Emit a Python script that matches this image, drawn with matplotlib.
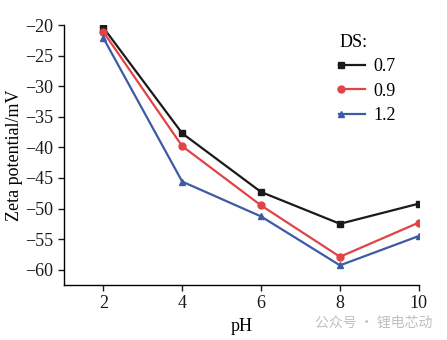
import matplotlib
matplotlib.use("Agg")
import matplotlib.pyplot as plt
from matplotlib.legend_handler import HandlerLine2DCompound
from matplotlib.lines import Line2D
import numpy as np

ph = [2, 4, 6, 8, 10]
ds_labels = ["0.7", "0.9", "1.2"]
zeta_07 = [-20.4, -37.7, -47.3, -52.5, -49.2]
zeta_09 = [-21.1, -39.8, -49.5, -57.9, -52.3]
zeta_12 = [-22.1, -45.6, -51.3, -59.3, -54.5]
yticks = [-20, -25, -30, -35, -40, -45, -50, -55, -60]
xticks = [2, 4, 6, 8, 10]

plt.rcParams['font.family'] = ['Liberation Serif', 'DejaVu Serif']

fig = plt.figure(figsize=(4.47, 3.4), dpi=100)
ax = fig.add_axes([0.143, 0.162, 0.794, 0.764])

colors = ['#1a1a1a', '#e04446', '#3d5aa5']
markers = ['s', 'o', '^']
series = [zeta_07, zeta_09, zeta_12]
for vals, c, m, lab in zip(series, colors, markers, ds_labels):
    ax.plot(ph, vals, color=c, marker=m, markersize=5, linewidth=1.6, label=lab)

ax.set_xlim(1, 10)
ax.set_ylim(-62.5, -20)
ax.set_xticks(xticks)
ax.set_yticks(yticks)
ax.set_yticklabels([f"\u2212{abs(v)}" for v in yticks])
ax.spines['top'].set_visible(False)
ax.spines['right'].set_visible(False)
for s in ['left', 'bottom']:
    ax.spines[s].set_linewidth(1.0)
ax.tick_params(direction='out', length=4, width=1.0, labelsize=13, colors='#1a1a1a')
ax.set_xlabel('pH', fontsize=13, labelpad=4)
ax.set_ylabel('Zeta potential/mV', fontsize=13, labelpad=2)


class LeftMarkerHandler(HandlerLine2DCompound):
    def get_xdata(self, legend, xdescent, ydescent, width, height, fontsize):
        xdata, _ = super().get_xdata(legend, xdescent, ydescent, width, height, fontsize)
        return xdata, np.array([-xdescent + 1.5])


leg = ax.legend(title='DS:', loc='upper left', bbox_to_anchor=(0.73, 1.03),
                frameon=False, fontsize=13, title_fontsize=13, handlelength=1.4,
                handletextpad=0.5, labelspacing=0.42, alignment='left',
                handler_map={Line2D: LeftMarkerHandler(numpoints=1)})

fig.text(0.967, 0.03, '公众号 · 锂电芯动', ha='right', va='bottom', fontsize=10,
         color='#c0c0c0', family=['Noto Sans CJK SC', 'DejaVu Sans'])

fig.savefig('out.png', dpi=100)
